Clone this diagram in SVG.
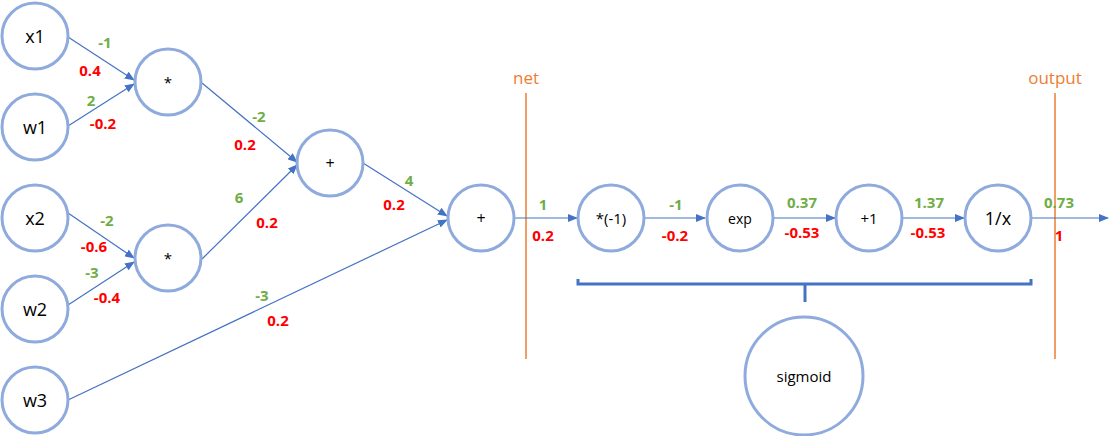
<svg xmlns="http://www.w3.org/2000/svg" width="1117" height="436" viewBox="0 0 1117 436">
<style>
.n{fill:#fff;stroke:#8faadc;stroke-width:3}
.t{font-family:"Open Sans","Noto Sans",sans-serif;fill:#000;text-anchor:middle;dominant-baseline:central}
.c{stroke:#4472c4;stroke-width:1.2;fill:none;marker-end:url(#ah)}
.g{font-family:"Open Sans","Noto Sans",sans-serif;font-weight:bold;font-size:15px;fill:#70ad47;text-anchor:middle;dominant-baseline:central}
.r{font-family:"Open Sans","Noto Sans",sans-serif;font-weight:bold;font-size:15px;fill:#ff0000;text-anchor:middle;dominant-baseline:central}
.o{stroke:#ed7d31;stroke-width:1.5}
.ol{font-family:"Open Sans","Noto Sans",sans-serif;font-size:17px;fill:#ed7d31;text-anchor:middle}
</style>
<defs>
<marker id="ah" markerWidth="10" markerHeight="8" refX="9" refY="4" orient="auto" markerUnits="userSpaceOnUse">
<path d="M0,0 L10,4 L0,8 z" fill="#4472c4"/>
</marker>
</defs>
<g id="guides">
<line class="o" x1="526" y1="93" x2="526" y2="359"/>
<text class="ol" x="526" y="84">net</text>
<line class="o" x1="1055" y1="93" x2="1055" y2="359"/>
<text class="ol" x="1055" y="84">output</text>
</g>
<g id="connectors">
<line class="c" x1="68" y1="37" x2="134" y2="80"/>
<line class="c" x1="68" y1="126" x2="134" y2="84"/>
<line class="c" x1="202" y1="83" x2="297" y2="162"/>
<line class="c" x1="202" y1="259" x2="297" y2="165"/>
<line class="c" x1="68" y1="213" x2="134" y2="258"/>
<line class="c" x1="68" y1="305" x2="134" y2="262"/>
<line class="c" x1="68" y1="400" x2="447" y2="220"/>
<line class="c" x1="363" y1="163" x2="447" y2="216"/>
<line class="c" x1="515" y1="218" x2="577" y2="218"/>
<line class="c" x1="645" y1="218" x2="705" y2="218"/>
<line class="c" x1="774" y1="218" x2="835" y2="218"/>
<line class="c" x1="903" y1="218" x2="964" y2="218"/>
<line class="c" x1="1032" y1="218" x2="1108" y2="218"/>
<path d="M578,279 L578,284 L1031,284 L1031,279 M805,284 L805,302" stroke="#4472c4" stroke-width="3" fill="none"/>
</g>
<g id="labels">
<text class="g" x="105" y="42">-1</text><text class="r" x="90" y="70">0.4</text>
<text class="g" x="91" y="100">2</text><text class="r" x="103" y="123">-0.2</text>
<text class="g" x="259" y="116">-2</text><text class="r" x="245" y="144">0.2</text>
<text class="g" x="239" y="197">6</text><text class="r" x="267" y="222">0.2</text>
<text class="g" x="107" y="220">-2</text><text class="r" x="94" y="246">-0.6</text>
<text class="g" x="92" y="272">-3</text><text class="r" x="107" y="297">-0.4</text>
<text class="g" x="262" y="295">-3</text><text class="r" x="278" y="320">0.2</text>
<text class="g" x="409" y="180">4</text><text class="r" x="394" y="204">0.2</text>
<text class="g" x="543" y="204">1</text><text class="r" x="543" y="235">0.2</text>
<text class="g" x="676" y="204">-1</text><text class="r" x="675" y="235">-0.2</text>
<text class="g" x="802" y="202">0.37</text><text class="r" x="802" y="232">-0.53</text>
<text class="g" x="929" y="202">1.37</text><text class="r" x="928" y="232">-0.53</text>
<text class="g" x="1059" y="202">0.73</text><text class="r" x="1059" y="235">1</text>
</g>
<g id="x1"><circle class="n" cx="35" cy="36" r="33"/><text class="t" x="35" y="36" font-size="18">x1</text></g>
<g id="w1"><circle class="n" cx="35" cy="127" r="33"/><text class="t" x="35" y="127" font-size="18">w1</text></g>
<g id="x2"><circle class="n" cx="35" cy="218" r="33"/><text class="t" x="35" y="218" font-size="18">x2</text></g>
<g id="w2"><circle class="n" cx="35" cy="309" r="33"/><text class="t" x="35" y="309" font-size="18">w2</text></g>
<g id="w3"><circle class="n" cx="35" cy="400" r="33"/><text class="t" x="35" y="400" font-size="18">w3</text></g>
<g id="mul1"><circle class="n" cx="168" cy="82" r="33"/><text class="t" x="168" y="82" font-size="15">*</text></g>
<g id="mul2"><circle class="n" cx="168" cy="258" r="33"/><text class="t" x="168" y="258" font-size="15">*</text></g>
<g id="add1"><circle class="n" cx="330" cy="163" r="33"/><text class="t" x="330" y="163" font-size="16">+</text></g>
<g id="add2"><circle class="n" cx="481" cy="218" r="33"/><text class="t" x="481" y="218" font-size="16">+</text></g>
<g id="neg"><circle class="n" cx="611" cy="218" r="33"/><text class="t" x="611" y="218" font-size="15">*(-1)</text></g>
<g id="exp"><circle class="n" cx="740" cy="218" r="33"/><text class="t" x="740" y="218" font-size="14">exp</text></g>
<g id="plus1"><circle class="n" cx="869" cy="218" r="33"/><text class="t" x="869" y="218" font-size="15">+1</text></g>
<g id="recip"><circle class="n" cx="998" cy="218" r="33"/><text class="t" x="998" y="218" font-size="18">1/x</text></g>
<g id="sigmoid"><circle class="n" cx="804" cy="376" r="59"/><text class="t" x="804" y="376" font-size="15">sigmoid</text></g>
</svg>
